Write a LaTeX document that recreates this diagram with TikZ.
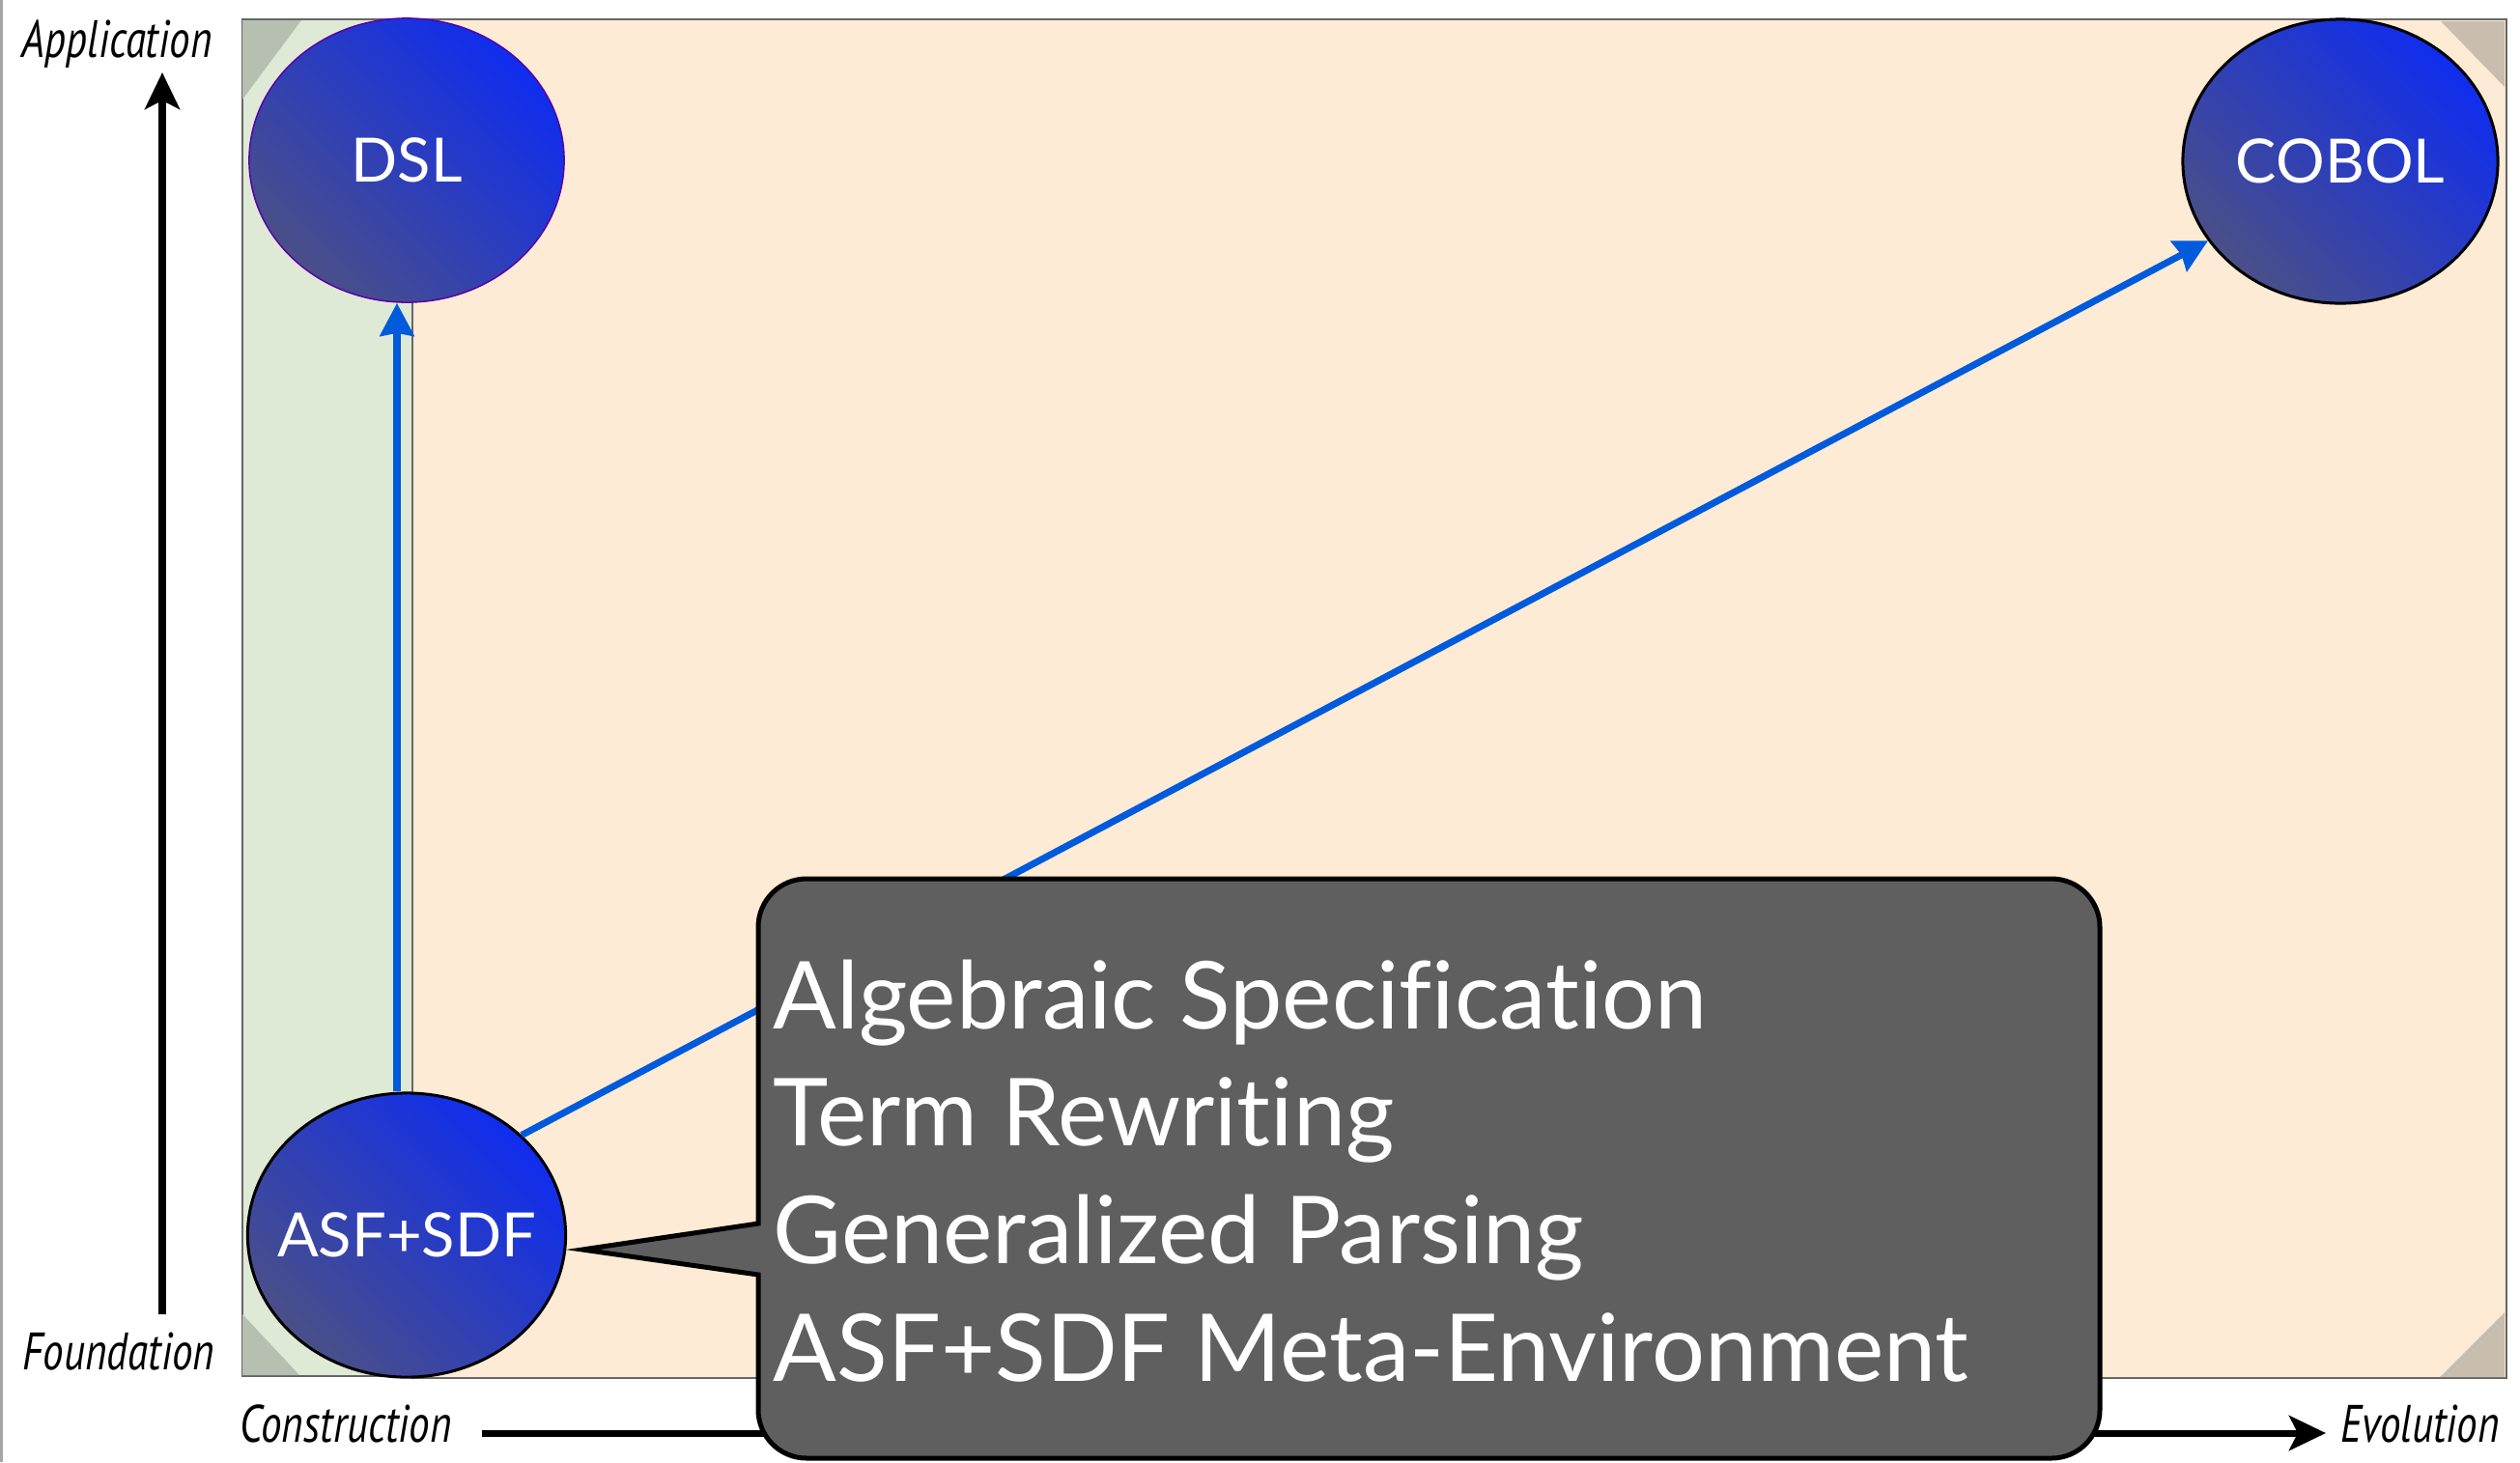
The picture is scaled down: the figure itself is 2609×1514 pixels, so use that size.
\documentclass[tikz,border=0pt]{standalone}
\usepackage{fontspec}
\usepackage{tikz}
\usetikzlibrary{shapes.geometric, arrows.meta, positioning, calc}
\usepackage{xcolor}
\newfontfamily\bubblefont[Ligatures=NoCommon]{Lato}
\newfontfamily\axisfont[FakeStretch=0.79]{PT Sans}
\definecolor{panelgreen}{RGB}{223,234,214}
\definecolor{panelorange}{RGB}{253,235,213}
\definecolor{foldgreen}{RGB}{182,191,176}
\definecolor{foldorange}{RGB}{201,189,176}
\definecolor{bubbletop}{RGB}{15,45,238}
\definecolor{bubblebot}{RGB}{74,79,136}
\definecolor{linkblue}{RGB}{0,90,220}
\definecolor{calloutgrey}{RGB}{95,95,95}
\tikzstyle{bubble} = [ellipse, minimum width=3.26cm, minimum height=2.94cm, inner xsep=-5pt, inner ysep=0pt, draw=black, line width=0.03cm, top color=bubbletop, bottom color=bubblebot, shading angle=-45, text=white, font=\bubblefont\fontsize{18}{20}\selectfont]
\tikzstyle{link} = [line width=0.07cm, draw=linkblue, -{Stealth[length=0.34cm, width=0.35cm, inset=0.03cm]}]
\tikzstyle{axis} = [line width=0.07cm, -{Stealth[length=0.38cm, width=0.36cm, inset=0.09cm]}]
\tikzstyle{axislabel} = [inner sep=0pt, anchor=base west, font=\axisfont\itshape\fontsize{15.5}{17}\selectfont]
\tikzstyle{topic} = [inner sep=0pt, anchor=base west, text=white, font=\bubblefont\fontsize{27.6}{33}\selectfont]

\begin{document}
\begin{tikzpicture}[x=0.01cm, y=-0.01cm]
    \useasboundingbox (0,0) rectangle (2609,1514);
    % slide edge and background panels
    \draw [gray!70, line width=0.03cm] (1,0) -- (1,1514);
    \filldraw [fill=panelgreen, draw=black!60, line width=0.02cm] (251,20) rectangle (427,1425);
    \filldraw [fill=panelorange, draw=black!60, line width=0.02cm] (427,20) rectangle (2595,1427);
    \fill [foldgreen] (251,21) -- (312,21) -- (251,103) -- cycle;
    \fill [foldgreen] (251,1361) -- (251,1424) -- (310,1424) -- cycle;
    \fill [foldorange] (2527,22) -- (2593,22) -- (2593,90) -- cycle;
    \fill [foldorange] (2593,1359) -- (2593,1426) -- (2526,1426) -- cycle;

    % axes
    \node (application) [axislabel] at (22,59) {Application};
    \node (foundation) [axislabel] at (23,1418) {Foundation};
    \node (construction) [axislabel] at (248,1493) {Construction};
    \node (evolution) [axislabel] at (2423,1493) {Evolution};
    \coordinate (ybot) at (168,1361);
    \coordinate (ytop) at (168,75);
    \coordinate (xleft) at (499,1484);
    \coordinate (xright) at (2408,1484);
    \draw [axis] (ybot) -- (ytop);
    \draw [axis] (xleft) -- (xright);

    % languages
    \node (dsl) [bubble, draw=violet!70!blue, line width=0.015cm] at (421,166) {DSL};
    \node (cobol) [bubble] at (2423,167) {COBOL};
    \node (asf) [bubble] at (421,1279) {ASF+SDF};

    \draw [link] ([xshift=-0.1cm]asf.north) -- ([xshift=-0.1cm]dsl.south);
    \draw [link] (asf.41) -- (cobol.211);

    % callout
    \draw [fill=calloutgrey, line width=0.05cm, line join=miter] (785,1320) [rounded corners=0.5cm] -- (785,1510) -- (2174,1510) -- (2174,910) -- (785,910) [sharp corners] -- (785,1267) -- (603,1294) -- cycle;
    \foreach \txt [count=\i from 0] in {Algebraic Specification, Term Rewriting, Generalized Parsing, ASF+SDF Meta-Environment}
        \node (topic\i) [topic] at (800, {1065+121.7*\i}) {\txt};
\end{tikzpicture}
\end{document}
